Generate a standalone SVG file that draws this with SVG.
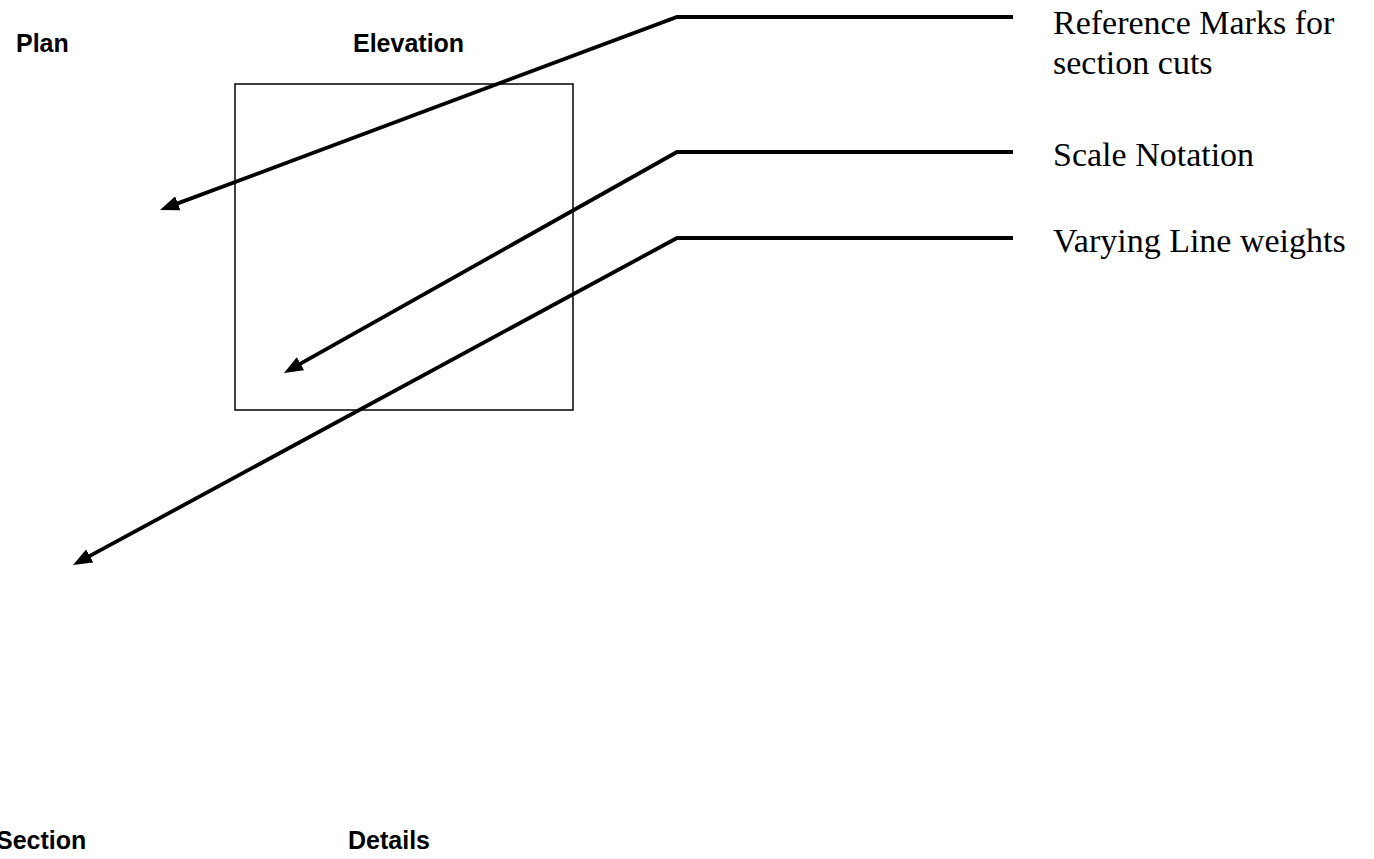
<svg xmlns="http://www.w3.org/2000/svg" width="1374" height="859" viewBox="0 0 1374 859">
<style>
.lbl{font-family:"Liberation Sans",Arial,sans-serif;font-weight:bold;font-size:25px;fill:#000}
.note{font-family:"Liberation Serif","Times New Roman",serif;font-size:34px;fill:#000}
.lead{fill:none;stroke:#000;stroke-width:3.8;stroke-linejoin:miter}
</style>
<defs>
<marker id="ah" markerUnits="userSpaceOnUse" viewBox="0 0 19 15" markerWidth="19" markerHeight="15" refX="3" refY="7.5" orient="auto">
<path d="M0,0 L19,7.5 L0,15 z" fill="#000"/>
</marker>
</defs>
<rect width="1374" height="859" fill="#fff"/>
<g id="labels">
<text class="lbl" x="16" y="52">Plan</text>
<text class="lbl" x="353" y="52">Elevation</text>
<text class="lbl" x="-4" y="849">Section</text>
<text class="lbl" x="348" y="849">Details</text>
</g>
<g id="elevation-box">
<rect x="235" y="84" width="338" height="326" fill="none" stroke="#000" stroke-width="1.5"/>
</g>
<g id="notes">
<text class="note" x="1053" y="34">Reference Marks for</text>
<text class="note" x="1053" y="74">section cuts</text>
<text class="note" x="1053" y="166">Scale Notation</text>
<text class="note" x="1053" y="252">Varying Line weights</text>
</g>
<g id="connectors">
<path class="lead" d="M1013,17 H677 L175,204.4" marker-end="url(#ah)"/>
<path class="lead" d="M1013,152 H677 L297.9,365.2" marker-end="url(#ah)"/>
<path class="lead" d="M1013,238 H677 L87.1,557.4" marker-end="url(#ah)"/>
</g>
</svg>
